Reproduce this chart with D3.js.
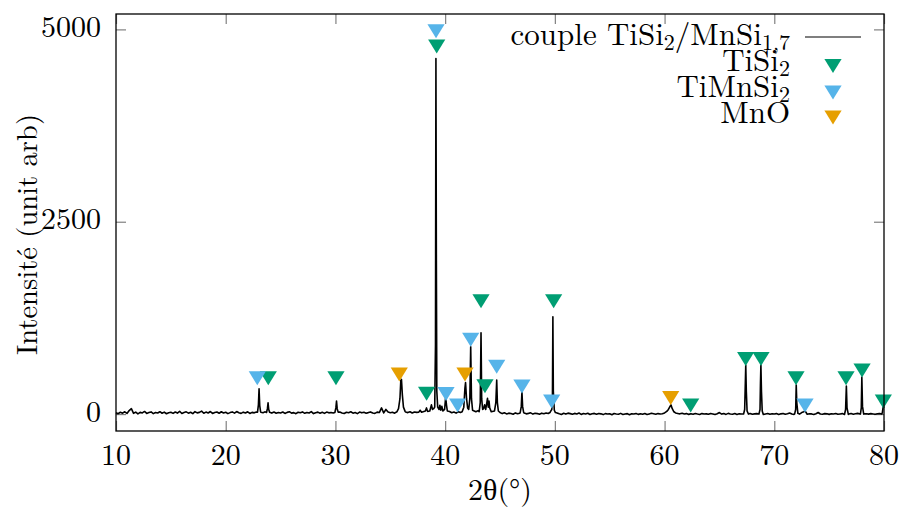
<!DOCTYPE html>
<html><head><meta charset="utf-8">
<script src="https://cdn.jsdelivr.net/npm/d3@7"></script>
<style>
html,body{margin:0;padding:0;background:#fff;}
svg{display:block;}
</style></head>
<body>
<script>
// ---------- DATA ----------
const scanStart = 10, scanStep = 0.2;
// background counts on the 0.2° scan grid (10° .. 80°)
const background = [
 18, 5, 24, 12, 30, 8, 45, 70, 10, 26, 3, 22, 15, 34, 9, 19, 28, 6, 21, 14, 31, 11, 25, 4, 17,
 23, 9, 27, 13, 36, 7, 20, 29, 12, 24, 5, 31, 16, 22, 38, 10, 26, 14, 33, 8, 21, 27, 11, 30, 15,
 24, 6, 19, 28, 12, 33, 17, 9, 25, 14, 30, 8, 22, 16, 27, 10, 23, 18, 29, 7, 21, 13, 26, 11, 20,
 15, 27, 8, 22, 31, 12, 19, 5, 24, 17, 28, 10, 21, 14, 32, 6, 18, 25, 11, 23, 9, 26, 16, 20, 13,
 22, 10, 27, 15, 8, 24, 18, 30, 12, 21, 6, 26, 16, 23, 11, 19, 28, 14, 9, 25, 20, 80, 15, 60, 26,
 18, 24, 12, 28, 20, 33, 15, 26, 19, 30, 14, 27, 22, 35, 18, 29, 40, 25, 32, 45, 38, 30, 42, 28, 35,
 30, 22, 34, 18, 27, 12, 30, 20, 25, 15, 28, 35, 24, 40, 30, 45, 38, 27, 33, 20, 29, 16, 24, 10, 20,
 14, 6, 18, 2, 12, 8, -2, 15, 5, 10, -4, 13, 3, 9, 16, 0, 11, 6, -3, 12, 4, 14, 7, 10, 2,
 8, 15, 3, -5, 10, 0, 12, 6, -2, 9, 2, 14, -4, 7, 1, 11, -6, 5, 9, -1, 8, 3, -7, 6, 0,
 4, -8, 7, 1, -3, 9, -5, 2, 6, -9, 3, 0, 8, -4, 5, -2, 7, -6, 2, 10, 4, -3, 6, 0, 3,
 10, 5, 12, 8, 14, 6, 9, 3, 11, 0, 6, -4, 5, -2, 8, 1, -5, 6, 0, 3, -3, 7, 2, -6, 4,
 20, 0, 6, -4, 9, 2, -2, 7, -5, 4, 1, -7, 5, 0, 8, -3, 3, 6, -1, 4, -4, 2, 7, -2, 5,
 0, 6, -5, 3, 8, -2, 4, 14, 1, -4, 6, 0, 12, 3, 9, -3, 5, 2, -6, 4, 20, 1, -2, 6, 3,
 -4, 5, 1, 8, -3, 2, 6, -5, 3, 0, 7, -2, 4, 9, 1, -6, 3, 5, -1, 6, 2, -3, 4, 8, 0,
 5
];
// measured points across the diffraction peaks [2θ, counts]
const peakGroups = [
 [[22.9,25],[22.98,120],[23.04,330],[23.1,110],[23.18,30]],
 [[23.72,20],[23.8,70],[23.86,145],[23.92,60],[24.0,25]],
 [[29.95,20],[30.04,80],[30.1,170],[30.16,70],[30.25,25]],
 [[35.6,30],[35.75,70],[35.88,200],[35.96,440],[36.02,450],[36.1,250],[36.2,90],[36.35,35]],
 [[37.6,25],[37.72,50],[37.85,25],[38.2,40],[38.3,80],[38.4,35],[38.6,40],[38.75,120],[38.85,60],[38.95,70],
  [39.05,90],[39.12,900],[39.16,4620],[39.2,2000],[39.24,300],[39.32,90],[39.45,60],[39.52,115],[39.6,50],
  [39.7,100],[39.8,40],[39.95,60],[40.05,225],[40.12,120],[40.2,40]],
 [[41.55,30],[41.7,90],[41.8,330],[41.86,410],[41.95,200],[42.05,80],[42.15,60],[42.25,200],[42.33,875],
  [42.4,200],[42.5,50],[42.65,40],[42.8,30]],
 [[43.1,30],[43.2,150],[43.27,1057],[43.33,200],[43.42,60],[43.5,70],[43.6,120],[43.7,60],[43.8,150],
  [43.86,204],[43.93,90],[44.0,170],[44.06,80],[44.2,30],[44.5,40],[44.62,150],[44.7,442],[44.76,150],
  [44.85,40],[45.0,20]],
 [[46.85,25],[46.94,100],[47.0,290],[47.06,100],[47.15,25]],
 [[49.55,20],[49.65,45],[49.72,60],[49.78,200],[49.82,1265],[49.86,300],[49.95,50],[50.05,20]],
 [[59.8,5],[60.0,15],[60.2,35],[60.35,60],[60.5,100],[60.58,120],[60.7,70],[60.85,30],[61.0,15],[61.3,5]],
 [[67.2,0],[67.3,60],[67.36,400],[67.4,637],[67.45,300],[67.52,40],[67.65,0]],
 [[68.6,0],[68.7,60],[68.74,400],[68.78,637],[68.83,300],[68.9,40],[69.0,-5]],
 [[71.85,0],[71.95,60],[72.0,377],[72.05,150],[72.15,10],[72.3,0],[72.5,20],[72.7,30],[72.8,45],[72.9,20]],
 [[76.4,-5],[76.5,60],[76.57,364],[76.63,80],[76.75,-5]],
 [[77.85,0],[77.93,80],[77.98,480],[78.04,100],[78.15,0]],
 [[79.85,20],[79.93,100],[80.0,80]]
];
// phase markers [2θ, marker height]
const markTiSi2 = [[23.88,464],[30.05,464],[38.31,264],[39.23,4779],[43.27,1465],[43.63,361],[49.89,1465],
  [62.38,110],[67.39,717],[68.79,717],[71.98,465],[76.54,465],[78.0,565],[79.94,165]];
const markTiMnSi2 = [[22.88,465],[39.17,4975],[40.08,262],[41.14,110],[42.33,966],[44.7,615],[47.0,360],
  [49.71,165],[72.8,110]];
const markMnO = [[35.82,513],[41.81,513],[60.56,208]];
const xTicks = [10,20,30,40,50,60,70,80];
const yTicks = [0,2500,5000];
const colors = {TiSi2:"#009e73", TiMnSi2:"#56b4e9", MnO:"#e69f00"};

// ---------- BUILD SERIES ----------
let pts = [];
background.forEach((v,i)=>{
  const a = +(scanStart + i*scanStep).toFixed(2);
  const inside = peakGroups.some(g => a >= g[0][0]-0.001 && a <= g[g.length-1][0]+0.001);
  if(!inside) pts.push([a,v]);
});
peakGroups.forEach(g=>g.forEach(p=>pts.push(p)));
pts.sort((a,b)=>a[0]-b[0]);

// ---------- DRAW ----------
const W=900,H=510, L=116,R=884,T=14,B=431;
const FONT = "Latin Modern Roman";
const svg = d3.select("body").append("svg").attr("width",W).attr("height",H);
const x = d3.scaleLinear().domain([10,80]).range([L,R]);
const y = d3.scaleLinear().domain([-220,5200]).range([B,T]);

// ticks (inward, mirrored)
const tickCol="#808080";
const gx = svg.append("g").attr("transform",`translate(0,${B})`)
  .call(d3.axisBottom(x).tickValues(xTicks).tickSizeInner(-10).tickSizeOuter(0).tickFormat(""));
const gxt = svg.append("g").attr("transform",`translate(0,${T})`)
  .call(d3.axisTop(x).tickValues(xTicks).tickSizeInner(-10).tickSizeOuter(0).tickFormat(""));
const gy = svg.append("g").attr("transform",`translate(${L},0)`)
  .call(d3.axisLeft(y).tickValues(yTicks).tickSizeInner(-10).tickSizeOuter(0).tickFormat(""));
const gyr = svg.append("g").attr("transform",`translate(${R},0)`)
  .call(d3.axisRight(y).tickValues(yTicks).tickSizeInner(-10).tickSizeOuter(0).tickFormat(""));
[gx,gxt,gy,gyr].forEach(g=>{g.select(".domain").remove(); g.selectAll("line").attr("stroke",tickCol).attr("stroke-width",1.2);});

// tick labels
svg.append("g").selectAll("text").data(xTicks).join("text")
  .attr("x",d=>x(d)).attr("y",465).attr("text-anchor","middle")
  .attr("font-family",FONT).attr("font-size",30).text(d=>d);
svg.append("g").selectAll("text").data(yTicks).join("text")
  .attr("x",101).attr("y",d=>y(d)+7.5).attr("text-anchor","end")
  .attr("font-family",FONT).attr("font-size",30).text(d=>d);

// axis titles
svg.append("text").attr("x",500).attr("y",500).attr("text-anchor","middle")
  .attr("font-family",FONT).attr("font-size",30).text("2θ(°)");
svg.append("text").attr("transform","translate(37,234.5) rotate(-90)").attr("text-anchor","middle")
  .attr("font-family",FONT).attr("font-size",28.5).text("Intensité (unit arb)");

// data line
const line = d3.line().x(d=>x(d[0])).y(d=>y(d[1]));
svg.append("path").datum(pts).attr("d",line).attr("fill","none")
  .attr("stroke","#000").attr("stroke-width",1.6).attr("stroke-linejoin","round");

// markers (downward triangles)
function tri(cx,cy){ const w=8.6,h=7; return `M${cx-w},${cy-h}L${cx+w},${cy-h}L${cx},${cy+h}Z`; }
[[markTiSi2,colors.TiSi2],[markTiMnSi2,colors.TiMnSi2],[markMnO,colors.MnO]].forEach(([arr,c])=>{
  svg.append("g").selectAll("path").data(arr).join("path")
    .attr("d",d=>tri(x(d[0]),y(d[1]))).attr("fill",c);
});

// border
svg.append("rect").attr("x",L).attr("y",T).attr("width",R-L).attr("height",B-T)
  .attr("fill","none").attr("stroke","#000").attr("stroke-width",1.3);

// legend
const lg = svg.append("g");
const t1 = lg.append("text").attr("x",790).attr("y",45).attr("text-anchor","end")
  .attr("font-family",FONT).attr("font-size",31);
t1.append("tspan").text("couple TiSi");
t1.append("tspan").attr("dy",5).attr("font-size",22).text("2");
t1.append("tspan").attr("dy",-5).text("/MnSi");
t1.append("tspan").attr("dy",5).attr("font-size",22).text("1,7");
lg.append("line").attr("x1",805).attr("x2",861).attr("y1",37).attr("y2",37).attr("stroke","#000").attr("stroke-width",1.2);
const rows=[["TiSi","2",71,colors.TiSi2,66],["TiMnSi","2",97,colors.TiMnSi2,92.5],["MnO","",123,colors.MnO,117.5]];
rows.forEach(([a,s,by,c,my])=>{
  const t=lg.append("text").attr("x",790).attr("y",by).attr("text-anchor","end")
    .attr("font-family",FONT).attr("font-size",31);
  t.append("tspan").text(a);
  if(s){ t.append("tspan").attr("dy",5).attr("font-size",22).text(s); }
  lg.append("path").attr("d",tri(833,my)).attr("fill",c);
});
</script>
</body></html>
